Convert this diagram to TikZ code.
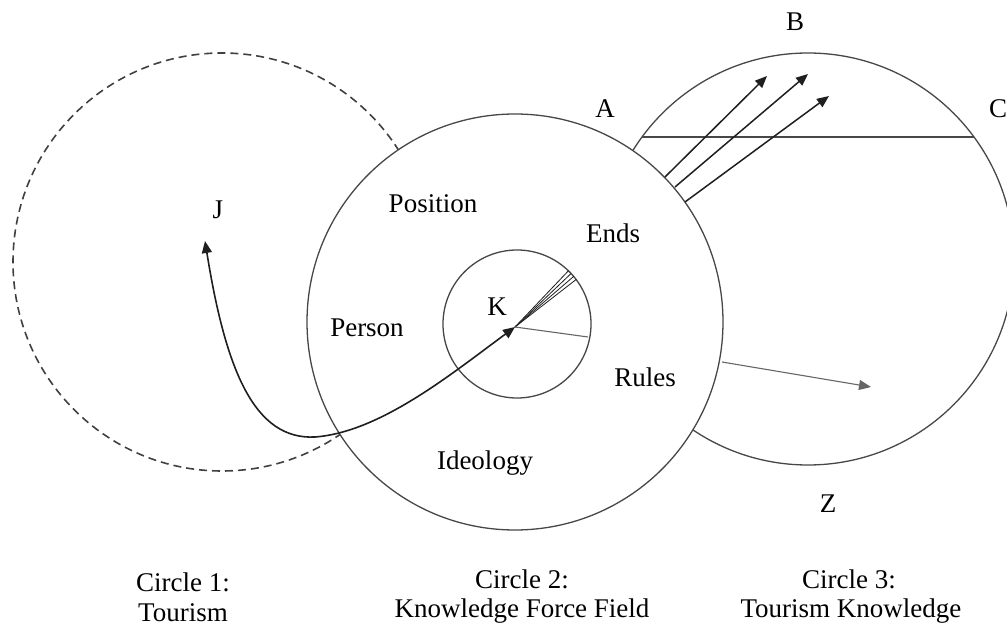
\documentclass[tikz,border=0pt]{standalone}
\usepackage{fontspec}
\setmainfont{Liberation Serif}
\usetikzlibrary{arrows.meta}
\begin{document}
\begin{tikzpicture}[x=1pt,y=-1pt,
  circ/.style={draw=black!72, line width=1.3pt},
  dcirc/.style={draw=black!75, line width=1.6pt, dash pattern=on 8pt off 5pt},
  arr/.style={draw=black!88, line width=1.5pt, -{Triangle[length=12pt,width=10pt]}},
  dblarr/.style={draw=black!88, line width=1.6pt, {Triangle[length=12pt,width=10pt]}-{Triangle[length=12pt,width=10pt]}},
  grayarr/.style={draw=black!60, line width=1.1pt, -{Triangle[length=12pt,width=10pt]}},
  fan/.style={draw=black!88, line width=0.8pt},
  grayline/.style={draw=black!60, line width=1.1pt},
  lbl/.style={font=\fontsize{27}{31}\selectfont, anchor=base, inner sep=0pt},
]
\useasboundingbox (0,0) rectangle (1007,628);

% Circle 1 (dashed) and Circle 3
\draw[dcirc] (222,262) circle[radius=209pt];
\draw[circ] (808,259) circle[radius=206pt];
\coordinate (chL) at (642,137);
\coordinate (chR) at (974,137);
\draw[circ] (chL) -- (chR);

% Circle 2 on top
\draw[circ, fill=white] (515,322) circle[radius=208pt];
% inner circle
\draw[circ] (517,324) circle[radius=74pt];

% K point
\coordinate (Kp) at (515,327);
\coordinate (Jp) at (205,241);

% fan lines
\coordinate (f1) at (568.4,270.8);
\coordinate (f2) at (571.1,273.5);
\coordinate (f3) at (573.7,276.4);
\coordinate (f4) at (576.1,279.5);
\foreach \f in {f1,f2,f3,f4} \draw[fan] (Kp) -- (\f);
\coordinate (g1) at (588,337);
\draw[grayline] (Kp) -- (g1);

% curve J-K
\draw[dblarr] (Kp) .. controls (450,375) and (380,432) .. (315,437)
  .. controls (255,440) and (226,372) .. (Jp);

% three arrows
\coordinate (s1) at (665,177);
\coordinate (s2) at (675,187);
\coordinate (s3) at (685,202);
\coordinate (t1) at (767,76);
\coordinate (t2) at (808,74);
\coordinate (t3) at (829,96);
\draw[arr] (s1) -- (t1);
\draw[arr] (s2) -- (t2);
\draw[arr] (s3) -- (t3);

% Rules arrow
\coordinate (r1) at (722,362);
\coordinate (r2) at (871,387);
\draw[grayarr] (r1) -- (r2);

% labels
\node[lbl] (J) at (218,219) {J};
\node[lbl] (pos) at (433,213) {Position};
\node[lbl] (ends) at (613,243) {Ends};
\node[lbl] (pers) at (367,337) {Person};
\node[lbl] (K) at (497,316) {K};
\node[lbl] (rules) at (645,386) {Rules};
\node[lbl] (ideo) at (485,469) {Ideology};
\node[lbl] (A) at (605,118) {A};
\node[lbl] (B) at (795,31) {B};
\node[lbl] (C) at (998,118) {C};
\node[lbl] (Z) at (828,512) {Z};

\node[lbl] (c1a) at (183,591) {Circle 1:};
\node[lbl] (c1b) at (183,621) {Tourism};
\node[lbl] (c2a) at (522,588) {Circle 2:};
\node[lbl] (c2b) at (522,617) {Knowledge Force Field};
\node[lbl] (c3a) at (849,588) {Circle 3:};
\node[lbl] (c3b) at (851,617) {Tourism Knowledge};
\end{tikzpicture}
\end{document}
